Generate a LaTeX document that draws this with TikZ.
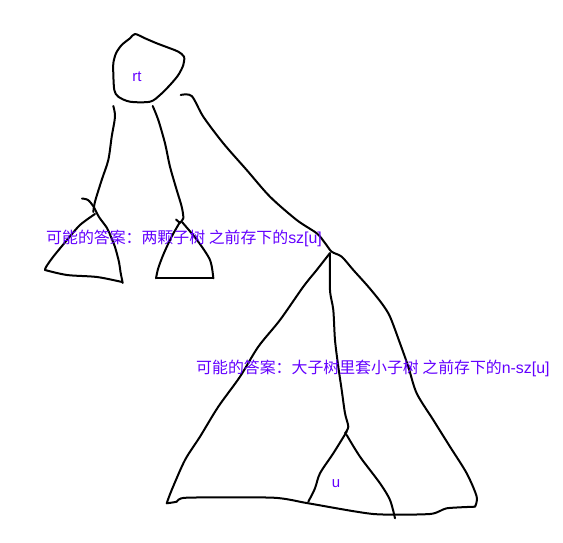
\documentclass[tikz,border=0pt]{standalone}
\usepackage{fontspec}
\setmainfont{Liberation Sans}
\newfontfamily\cjk{Noto Sans CJK SC}
\definecolor{labelcol}{RGB}{100,0,255}
\begin{document}
\begin{tikzpicture}[x=1pt,y=-1pt,
  stroke/.style={line width=2pt,black,line join=round,line cap=round},
  lbl/.style={text=labelcol,inner sep=0pt,font=\fontsize{15}{16}\selectfont},
  longlbl/.style={text=labelcol,inner sep=0pt,anchor=west,font=\fontsize{15.9}{18}\selectfont}]
\useasboundingbox[fill=white] (0,0) rectangle (563,543);
% root blob
\draw[stroke] plot[smooth cycle,tension=0.5] coordinates {
 (135,34) (130,38.3) (121.7,45) (116,53.3) (113.3,63.3) (113.3,73.3) (114.3,90)
 (118.3,96.7) (130,101.7) (150,101.7) (160,95) (170,85) (178.3,75) (183.3,65)
 (184,56.7) (178.3,51.7) (170,48.3) (156.7,43.3) (145,38.3)};
\node[lbl] (rt) at (137,77) {rt};
% left branch and left subtree
\draw[stroke] plot[smooth,tension=0.5] coordinates {
 (113.3,106) (115,116.7) (111.7,136.7) (108.3,160) (101.7,180) (95,201.7) (93.3,212)};
\draw[stroke] plot[smooth,tension=0.5] coordinates {
 (82,198.5) (88,200) (93.5,206.5) (99,217) (107,228) (111,237) (115,247) (119,262) (120.5,272) (122.7,283)};
\draw[stroke] plot[smooth,tension=0.5] coordinates {
 (95,214) (80,225) (67,240) (53,257) (46,267) (45,270)};
\draw[stroke] plot[smooth,tension=0.5] coordinates {
 (45,270) (67,275) (97,277) (122,282)};
% middle branch and middle subtree
\draw[stroke] plot[smooth,tension=0.5] coordinates {
 (152.7,106) (158.3,120) (165,143.3) (170,166.7) (176.7,190) (181.7,206.7) (183.3,218.3) (180,222.5)};
\draw[stroke] (176,219.5) -- (180,223);
\draw[stroke] plot[smooth,tension=0.5] coordinates {
 (180,222) (172,236) (164,253) (158.3,268) (156,278.3)};
\draw[stroke] (156,278.3) -- (213.3,278.3);
\draw[stroke] plot[smooth,tension=0.5] coordinates {
 (213.3,278.3) (210,260) (197,240) (182,222)};
% long branch into right side of big triangle
\draw[stroke] plot[smooth,tension=0.5] coordinates {
 (180.7,95) (191.7,96) (203.3,116.7) (223.3,143.3) (246.7,170) (270,196.7)
 (296.7,220) (316.7,233.3) (325,243) (331.7,251.7) (341.7,256.7) (353.3,270) (368.3,286.7)
 (381.7,303.3) (390,316.7) (400,343.3) (408.3,366.7) (416.7,393.3) (433.3,420)
 (450,446.7) (466.7,473.3) (476.7,496.7) (475,506.7)};
% big triangle left side
\draw[stroke] plot[smooth,tension=0.5] coordinates {
 (330,253) (316.7,270) (303.3,286.7) (280,320) (258.3,346.7) (240,376.7)
 (218.3,406.7) (200,436.7) (185,460) (171.7,490) (166.7,503.3)};
% big triangle bottom
\draw[stroke] plot[smooth,tension=0.4] coordinates {
 (166.7,503.3) (176.7,501.7) (186.7,497.7) (273.3,497.7) (308.3,503.3) (373.3,514)
 (430,514) (446.7,508.3) (475,506.7)};
% middle vertical line
\draw[stroke] plot[smooth,tension=0.5] coordinates {
 (330,253.3) (330,290) (333.3,310) (335,340) (338.3,366.7) (341.7,390) (345,413.3)
 (348.3,426.7) (345,433.3)};
% small triangle u
\draw[stroke] plot[smooth,tension=0.5] coordinates {
 (346.7,431.7) (333.3,453.3) (320,473.3) (315,488.3) (308.3,501.7)};
\draw[stroke] plot[smooth,tension=0.5] coordinates {
 (346.7,435) (360,456.7) (380,483.3) (390,500) (395,518.3)};
\node[lbl] (u) at (336,484) {u};
% labels
\node[longlbl] (ans1) at (46,238.5) {{\cjk 可能的答案：两颗子树 之前存下的}sz[u]};
\node[longlbl] (ans2) at (196,368.5) {{\cjk 可能的答案：大子树里套小子树 之前存下的}n-sz[u]};
\end{tikzpicture}
\end{document}
